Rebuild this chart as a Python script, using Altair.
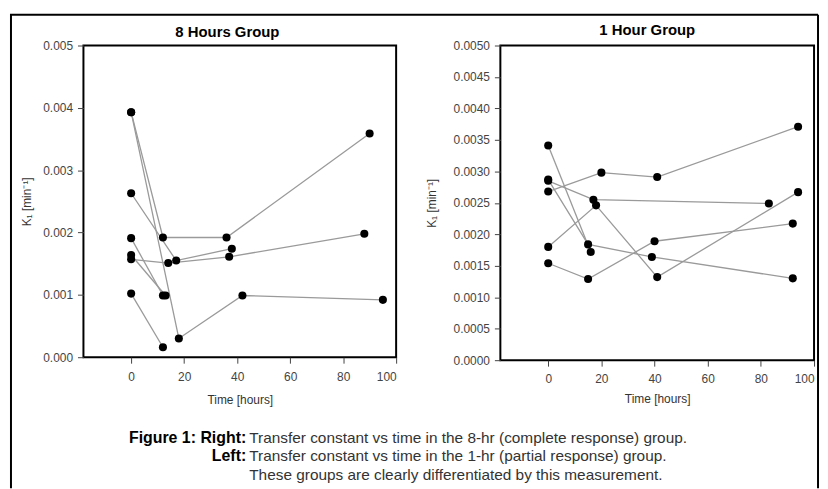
import altair as alt
import pandas as pd

# ---- data: 8 Hours Group (left panel) ----
left_subject = ["A", "A", "A", "A",
                "B", "B", "B", "B",
                "C", "C", "C",
                "D", "D", "D", "D",
                "E", "E",
                "F", "F",
                "G", "G"]
left_time = [0, 12, 36, 90,
             0, 18, 42, 95,
             0, 17, 38,
             0, 14, 37, 88,
             0, 12,
             0, 13,
             0, 12]
left_k1 = [0.00393, 0.00192, 0.00192, 0.00359,
           0.00393, 0.00030, 0.00099, 0.00092,
           0.00263, 0.00155, 0.00174,
           0.00157, 0.00151, 0.00161, 0.00198,
           0.00191, 0.00099,
           0.00164, 0.00099,
           0.00102, 0.00016]

# ---- data: 1 Hour Group (right panel) ----
right_subject = ["A", "A", "A", "A",
                 "B", "B", "B", "B",
                 "C", "C",
                 "D", "D", "D",
                 "E", "E", "E", "E",
                 "F", "F", "F", "F"]
right_time = [0, 20, 41, 94,
              0, 15, 39, 92,
              0, 16,
              0, 17, 83,
              0, 18, 41, 94,
              0, 15, 40, 92]
right_k1 = [0.00268, 0.00298, 0.00291, 0.00371,
            0.00287, 0.00184, 0.00164, 0.00130,
            0.00341, 0.00172,
            0.00285, 0.00255, 0.00249,
            0.00180, 0.00246, 0.00132, 0.00267,
            0.00154, 0.00129, 0.00189, 0.00217]

left_titles = "8 Hours Group"
right_titles = "1 Hour Group"
x_ticks = [0, 20, 40, 60, 80, 100]
left_y_ticks = [0.000, 0.001, 0.002, 0.003, 0.004, 0.005]
right_y_ticks = [0.0000, 0.0005, 0.0010, 0.0015, 0.0020, 0.0025,
                 0.0030, 0.0035, 0.0040, 0.0045, 0.0050]
x_title = "Time [hours]"
y_title = "K\u2081 [min\u207b\u00b9]"
caption_bold = ["Figure 1: Right:", "Left:"]
caption_text = ["Transfer constant vs time in the 8-hr (complete response) group.",
                "Transfer constant vs time in the 1-hr (partial response) group.",
                "These groups are clearly differentiated by this measurement."]

FONT = "Liberation Sans"


def panel(subj, t, k, yticks, yfmt, title, tpad, xlpad, xtpad, title_x, title_y):
    df = pd.DataFrame({"subject": subj, "t": t, "k": k})
    xs = alt.X("t:Q", scale=alt.Scale(domain=[-18, 100], nice=False, zero=False),
               axis=alt.Axis(values=x_ticks, title=x_title, format="d",
                             labelPadding=xlpad, titlePadding=xtpad))
    ys = alt.Y("k:Q", scale=alt.Scale(domain=[0, 0.005], nice=False),
               axis=alt.Axis(values=yticks, format=yfmt, title=y_title,
                             titlePadding=tpad))
    base = alt.Chart(df)
    lines = base.mark_line(color="#9a9a9a", strokeWidth=1.3).encode(
        x=xs, y=ys, detail="subject:N", order="t:Q")
    pts = base.mark_circle(color="black", opacity=1, size=66).encode(x=xs, y=ys)
    ttl = alt.Chart(pd.DataFrame({"a": [0]})).mark_text(
        text=title, font=FONT, fontSize=15, fontWeight="bold", align="center",
        baseline="alphabetic", color="black").encode(
        x=alt.value(title_x), y=alt.value(title_y))
    return [lines, pts, ttl]


one = pd.DataFrame({"a": [0]})

left_layers = panel(left_subject, left_time, left_k1, left_y_ticks, ".3f",
                    left_titles, 9, 8, 13, 145, -9)
right_layers = panel(right_subject, right_time, right_k1, right_y_ticks, ".4f",
                     right_titles, 15, 7, 10, 148, -11)

# outer figure border (pixel positions relative to the left panel)
border = [
    alt.Chart(one).mark_rule(color="black", strokeWidth=2).encode(
        x=alt.value(-73), y=alt.value(-31), y2=alt.value(446)),
    alt.Chart(one).mark_rule(color="black", strokeWidth=2).encode(
        x=alt.value(-74), x2=alt.value(740), y=alt.value(-31)),
    alt.Chart(one).mark_rule(color="black", strokeWidth=2).encode(
        x=alt.value(740), y=alt.value(-31), y2=alt.value(446)),
]

caption = [
    alt.Chart(one).mark_text(text=caption_bold[0], font=FONT, fontSize=16,
                             fontWeight="bold", align="right", baseline="alphabetic",
                             color="black").encode(x=alt.value(164), y=alt.value(400)),
    alt.Chart(one).mark_text(text=caption_bold[1], font=FONT, fontSize=16,
                             fontWeight="bold", align="right", baseline="alphabetic",
                             color="black").encode(x=alt.value(164), y=alt.value(419)),
    alt.Chart(one).mark_text(text=caption_text[0], font=FONT, fontSize=15.5,
                             align="left", baseline="alphabetic",
                             color="#333").encode(x=alt.value(167), y=alt.value(400)),
    alt.Chart(one).mark_text(text=caption_text[1], font=FONT, fontSize=15.5,
                             align="left", baseline="alphabetic",
                             color="#333").encode(x=alt.value(167), y=alt.value(419)),
    alt.Chart(one).mark_text(text=caption_text[2], font=FONT, fontSize=15.5,
                             align="left", baseline="alphabetic",
                             color="#333").encode(x=alt.value(167), y=alt.value(438)),
]

left = alt.layer(*left_layers, *border, *caption).properties(width=315, height=314)
right = alt.layer(*right_layers).properties(width=316, height=317)

chart = alt.hconcat(left, right, spacing=105, bounds="flush").properties(
    padding={"left": 0, "top": 3, "right": 0, "bottom": 0},
    background="white"
).configure_view(
    stroke="black", strokeWidth=2
).configure_axis(
    domain=False, grid=False, labelFont=FONT, labelFontSize=12,
    labelColor="#444", tickColor="#444", tickSize=6, labelPadding=5,
    titleFont=FONT, titleFontSize=12, titleFontWeight="normal", titleColor="#333"
)

chart.save("out.html", embed_options={"renderer": "svg", "actions": False})
